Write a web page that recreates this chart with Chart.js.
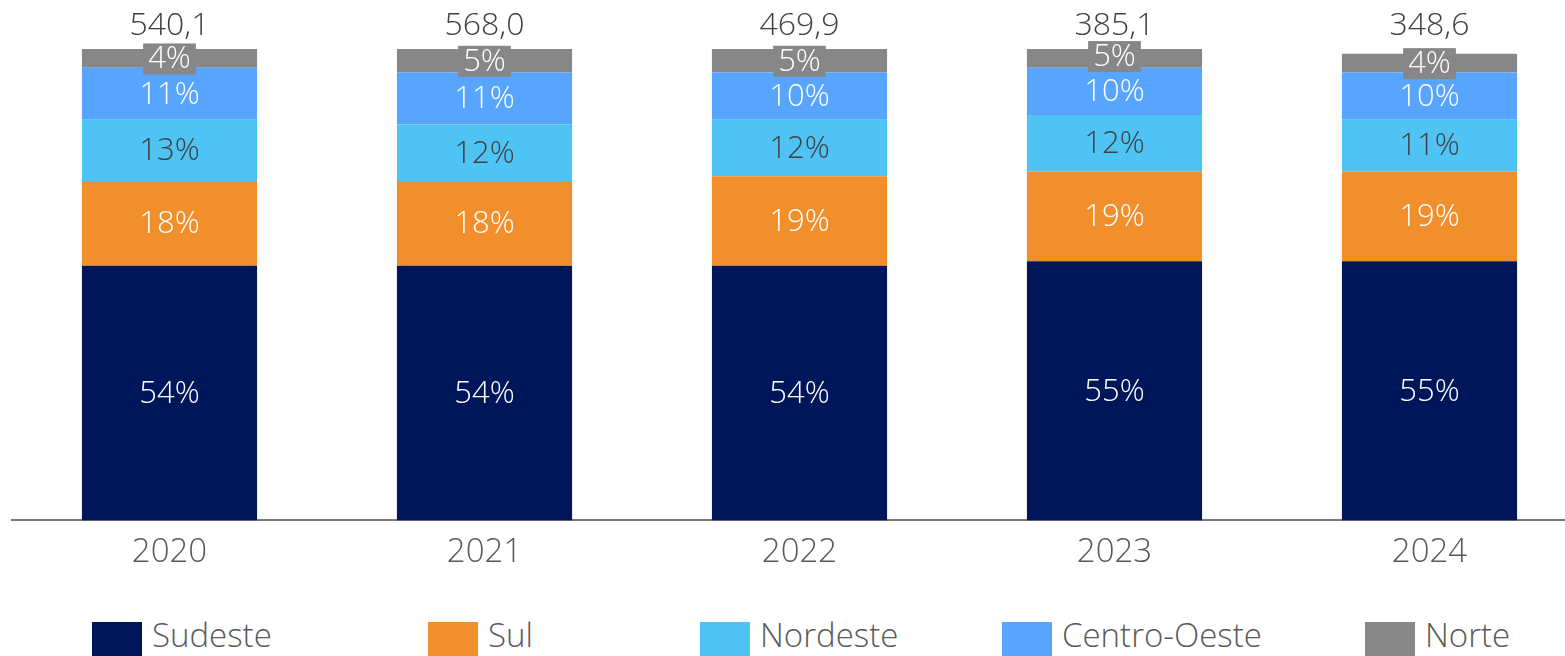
<!DOCTYPE html>
<html>
<head>
<meta charset="utf-8">
<script src="https://cdn.jsdelivr.net/npm/chart.js@4/dist/chart.umd.min.js"></script>
<style>
  html, body { margin: 0; padding: 0; background: #fff; overflow: hidden; }
  #wrap { position: relative; width: 1565px; height: 656px; overflow: hidden; }
  #box { width: 1590px; height: 584px; }
  #legend { position: absolute; left: 92px; top: 622px; display: flex; white-space: nowrap; }
  .item { display: flex; align-items: flex-start; }
  .swatch { width: 50px; height: 36px; margin-right: 10px; flex: none; }
  .name {
    font-family: 'Open Sans', 'Noto Sans', sans-serif;
    font-weight: 300;
    font-size: 33px;
    line-height: 26px;
    color: #595959;
    margin-top: 0px;
  }
</style>
</head>
<body>
<div id="wrap">
  <div id="box"><canvas id="regionChart"></canvas></div>
  <div id="legend"></div>
</div>
<script>
// ================= DATA =================

const years = ["2020", "2021", "2022", "2023", "2024"];

const totals = [540.1, 568.0, 469.9, 385.1, 348.6];

const sudeste = [54, 54, 54, 55, 55];
const sul = [18, 18, 19, 19, 19];
const nordeste = [13, 12, 12, 12, 11];
const centroOeste = [11, 11, 10, 10, 10];
const norte = [4, 5, 5, 5, 4];

const FONT = "'Open Sans', 'Noto Sans', sans-serif";


// ================= LABELS =================

const barLabels = {

    id: "barLabels",

    afterDatasetsDraw(chart) {

        const ctx = chart.ctx;

        ctx.save();
        ctx.textAlign = "center";
        ctx.textBaseline = "middle";
        ctx.font = "300 31px " + FONT;

        chart.data.datasets.forEach((ds, i) => {

            const meta = chart.getDatasetMeta(i);

            meta.data.forEach((bar, j) => {

                const y = (bar.y + bar.base) / 2;
                const text = ds.data[j] + "%";

                if (ds.label === "Norte") {
                    const w = ctx.measureText(text).width + 10;
                    ctx.fillStyle = "#878787";
                    ctx.fillRect(bar.x - w / 2, y - 15, w, 31);
                }

                ctx.fillStyle = ds.label === "Nordeste" ? "#404040" : "#ffffff";
                ctx.fillText(text, bar.x, y + 1);

            });

        });

        // totals above each column
        const last = chart.getDatasetMeta(chart.data.datasets.length - 1);

        ctx.fillStyle = "#404040";
        ctx.font = "300 32px " + FONT;

        last.data.forEach((bar, j) => {
            ctx.fillText(totals[j].toFixed(1).replace(".", ","), bar.x, 26);
        });

        ctx.restore();

    }

};


// ================= STACKED BAR CHART =================

const regionChart = document.getElementById("regionChart");

const chart = new Chart(regionChart, {

    type: "bar",

    data: {

        labels: years,

        datasets: [
            { label: "Sudeste", data: sudeste, backgroundColor: "#00165a" },
            { label: "Sul", data: sul, backgroundColor: "#f18f2c" },
            { label: "Nordeste", data: nordeste, backgroundColor: "#4fc3f4" },
            { label: "Centro-Oeste", data: centroOeste, backgroundColor: "#58a5ff" },
            { label: "Norte", data: norte, backgroundColor: "#878787" }
        ]

    },

    options: {

        responsive: true,
        maintainAspectRatio: false,
        animation: false,

        datasets: {
            bar: {
                categoryPercentage: 1,
                barPercentage: 0.556,
                borderWidth: 0
            }
        },

        layout: {
            padding: { top: 49, left: 12, right: 3, bottom: 0 }
        },

        scales: {

            x: {
                stacked: true,
                grid: { display: false, drawTicks: false },
                border: { color: "#7a7a7a", width: 2 },
                ticks: {
                    color: "#595959",
                    padding: 12,
                    font: { family: FONT, size: 33, weight: 300 }
                }
            },

            y: {
                stacked: true,
                display: false,
                min: 0,
                max: 100
            }

        },

        plugins: {

            legend: { display: false },

            tooltip: { enabled: false }

        }

    },

    plugins: [barLabels]

});


// ================= LEGEND =================

// slot width of each legend entry, left to right
const legendSlots = [336, 272, 302, 363, 200];

const legend = document.getElementById("legend");

chart.data.datasets.forEach((ds, i) => {

    const item = document.createElement("div");
    item.className = "item";
    item.style.width = legendSlots[i] + "px";

    const swatch = document.createElement("span");
    swatch.className = "swatch";
    swatch.style.background = ds.backgroundColor;

    const name = document.createElement("span");
    name.className = "name";
    name.textContent = ds.label;

    item.appendChild(swatch);
    item.appendChild(name);
    legend.appendChild(item);

});
</script>
</body>
</html>
